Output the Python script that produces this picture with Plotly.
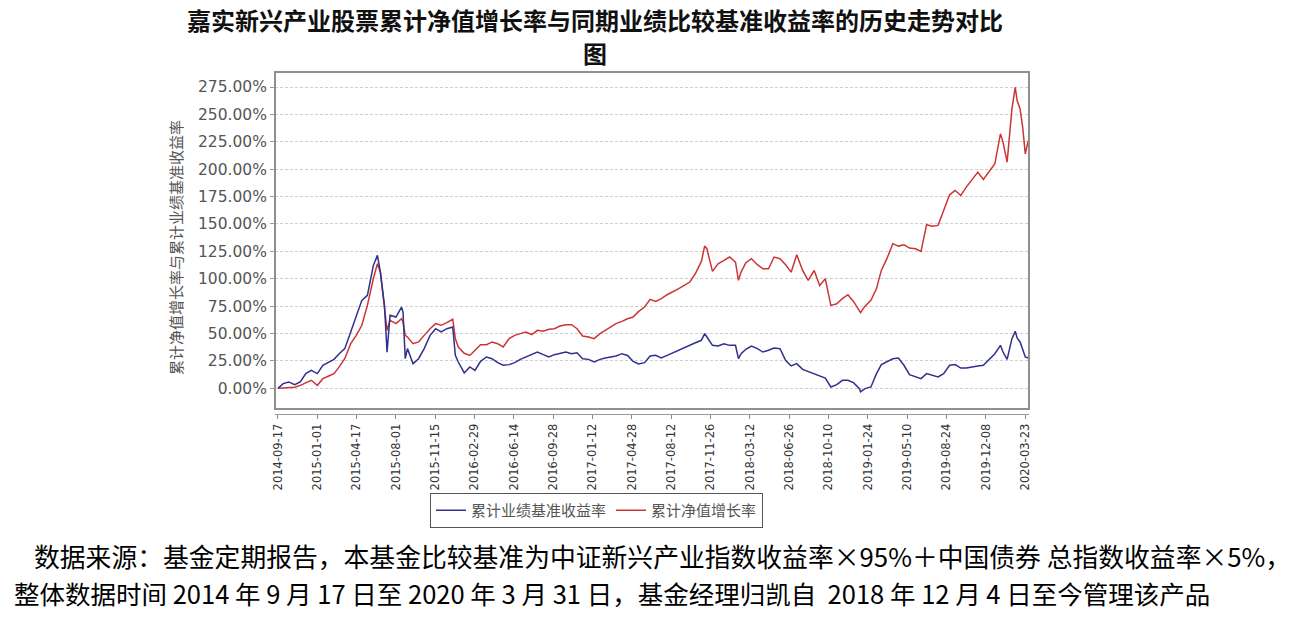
import plotly.graph_objects as go

dates = [
    "2014-09-17", "2014-10-01", "2014-10-16", "2014-11-01", "2014-11-16", "2014-12-01", "2014-12-16",
    "2015-01-01", "2015-01-16", "2015-02-01", "2015-02-15", "2015-03-01", "2015-03-16", "2015-04-01",
    "2015-04-16", "2015-05-01", "2015-05-16", "2015-06-01", "2015-06-12", "2015-06-20", "2015-07-01",
    "2015-07-08", "2015-07-16", "2015-08-01", "2015-08-16", "2015-08-20", "2015-08-26", "2015-09-01",
    "2015-09-16", "2015-10-01", "2015-10-16", "2015-11-01", "2015-11-16", "2015-12-01", "2015-12-16",
    "2016-01-01", "2016-01-08", "2016-01-16", "2016-02-01", "2016-02-16", "2016-03-01", "2016-03-16",
    "2016-04-01", "2016-04-16", "2016-05-01", "2016-05-16", "2016-06-01", "2016-06-16", "2016-07-01",
    "2016-07-16", "2016-08-01", "2016-08-16", "2016-09-01", "2016-09-16", "2016-10-01", "2016-10-16",
    "2016-11-01", "2016-11-16", "2016-12-01", "2016-12-16", "2017-01-01", "2017-01-16", "2017-02-01",
    "2017-02-15", "2017-03-01", "2017-03-16", "2017-04-01", "2017-04-16", "2017-05-01", "2017-05-16",
    "2017-06-01", "2017-06-16", "2017-07-01", "2017-07-16", "2017-08-01", "2017-08-16", "2017-09-01",
    "2017-09-16", "2017-10-01", "2017-10-16", "2017-11-01", "2017-11-10", "2017-11-16", "2017-12-01",
    "2017-12-16", "2018-01-01", "2018-01-16", "2018-02-01", "2018-02-09", "2018-02-16", "2018-03-01",
    "2018-03-16", "2018-04-01", "2018-04-16", "2018-05-01", "2018-05-16", "2018-06-01", "2018-06-16",
    "2018-07-01", "2018-07-16", "2018-08-01", "2018-08-16", "2018-09-01", "2018-09-16", "2018-10-01",
    "2018-10-16", "2018-11-01", "2018-11-16", "2018-12-01", "2018-12-16", "2019-01-01", "2019-01-04",
    "2019-01-16", "2019-02-01", "2019-02-16", "2019-03-01", "2019-03-16", "2019-04-01", "2019-04-16",
    "2019-05-01", "2019-05-16", "2019-06-01", "2019-06-16", "2019-07-01", "2019-07-16", "2019-08-01",
    "2019-08-16", "2019-09-01", "2019-09-16", "2019-10-01", "2019-10-16", "2019-11-01", "2019-11-16",
    "2019-12-01", "2019-12-16", "2020-01-01", "2020-01-16", "2020-01-23", "2020-02-03", "2020-02-16",
    "2020-02-25", "2020-03-01", "2020-03-09", "2020-03-16", "2020-03-23", "2020-03-31",
]

# 累计业绩基准收益率 (%)
benchmark = [
    0.0, 4.3, 5.8, 3.3, 5.8, 13.4, 16.4,
    13.4, 21.0, 24.0, 26.4, 31.6, 36.2, 51.4,
    66.6, 80.3, 84.8, 112.0, 121.3, 106.0, 75.7,
    33.0, 66.6, 65.0, 74.0, 69.6, 27.0, 36.2,
    22.5, 27.0, 36.2, 48.3, 54.4, 51.4, 54.4,
    56.0, 30.0, 24.0, 14.0, 19.5, 16.4, 24.6,
    28.6, 27.0, 23.4, 21.0, 21.6, 23.4, 26.4,
    28.6, 30.7, 33.1, 30.7, 28.6, 30.7, 32.2,
    33.1, 31.6, 32.5, 27.0, 26.4, 24.0, 26.4,
    27.7, 28.6, 29.5, 31.6, 30.0, 24.6, 22.2,
    23.4, 29.5, 30.1, 27.7, 30.1, 32.5, 34.7,
    36.8, 39.8, 41.6, 43.8, 49.9, 46.8, 39.2,
    38.6, 40.7, 39.2, 39.2, 27.0, 31.6, 35.6,
    38.6, 36.2, 33.1, 34.7, 36.8, 36.2, 25.5,
    20.4, 22.5, 17.3, 15.5, 13.4, 11.9, 9.4,
    1.2, 3.3, 7.3, 7.3, 5.2, -0.3, -3.3,
    -0.3, 1.2, 13.4, 21.6, 24.0, 27.0, 27.7,
    21.0, 12.5, 10.3, 8.8, 13.4, 11.9, 10.3,
    13.4, 21.0, 21.6, 18.5, 18.5, 19.8, 20.4,
    21.0, 26.4, 31.6, 39.2, 33.1, 26.4, 45.3,
    52.0, 45.9, 42.3, 34.7, 28.6, 27.7,
]

# 累计净值增长率 (%)
fund = [
    0.0, 0.3, 0.6, 0.9, 2.7, 5.2, 7.3,
    2.7, 8.8, 11.2, 13.4, 19.5, 27.0, 40.7,
    48.3, 57.5, 75.7, 100.0, 113.7, 106.0, 69.6,
    53.0, 62.0, 59.0, 63.5, 60.5, 48.3, 46.8,
    40.7, 42.3, 48.3, 54.4, 59.0, 57.5, 60.0,
    63.0, 45.3, 37.7, 32.0, 30.0, 34.7, 39.8,
    39.8, 42.3, 40.7, 37.7, 45.3, 48.3, 49.9,
    51.4, 49.0, 52.9, 52.0, 53.8, 54.4, 56.8,
    58.0, 58.0, 54.4, 47.7, 46.8, 45.3, 49.9,
    52.9, 55.9, 59.0, 61.1, 63.5, 65.0, 70.2,
    74.2, 81.2, 79.3, 81.8, 85.4, 87.9, 90.9,
    93.9, 97.0, 104.6, 115.8, 129.8, 127.4, 106.7,
    113.7, 116.7, 119.8, 115.2, 98.5, 106.0, 114.6,
    118.3, 112.8, 109.1, 109.1, 119.8, 118.3, 112.8,
    106.0, 121.9, 107.6, 98.5, 107.6, 93.9, 100.0,
    75.7, 77.2, 81.8, 85.4, 79.3, 70.2, 69.0,
    75.0, 80.3, 91.0, 107.6, 118.3, 132.0, 129.8,
    131.0, 128.0, 127.4, 125.0, 149.3, 148.0, 148.7,
    162.3, 176.6, 180.6, 176.0, 183.6, 190.6, 197.3,
    190.6, 198.0, 204.9, 232.3, 224.7, 206.4, 255.0,
    274.8, 262.7, 255.0, 238.3, 214.0, 226.0,
]

tick_dates = [
    "2014-09-17", "2015-01-01", "2015-04-17", "2015-08-01", "2015-11-15", "2016-02-29",
    "2016-06-14", "2016-09-28", "2017-01-12", "2017-04-28", "2017-08-12", "2017-11-26",
    "2018-03-12", "2018-06-26", "2018-10-10", "2019-01-24", "2019-05-10", "2019-08-24",
    "2019-12-08", "2020-03-23",
]
y_ticks = [0, 25, 50, 75, 100, 125, 150, 175, 200, 225, 250, 275]
y_tick_text = ["0.00%", "25.00%", "50.00%", "75.00%", "100.00%", "125.00%", "150.00%",
               "175.00%", "200.00%", "225.00%", "250.00%", "275.00%"]

title_line1 = "嘉实新兴产业股票累计净值增长率与同期业绩比较基准收益率的历史走势对比"
title_line2 = "图"
y_title = "累计净值增长率与累计业绩基准收益率"
note1 = "数据来源：基金定期报告，本基金比较基准为中证新兴产业指数收益率×95%＋中国债券 总指数收益率×5%，"
note2 = "整体数据时间 2014 年 9 月 17 日至 2020 年 3 月 31 日，基金经理归凯自  2018 年 12 月 4 日至今管理该产品"

W, H = 1310, 618
L, R, T, B = 275, 281, 72, 204
PW, PH = W - L - R, H - T - B

fig = go.Figure()
fig.add_trace(go.Scatter(
    x=dates, y=fund, mode="lines", name="累计净值增长率",
    line=dict(color="#cc3535", width=1.5), legendrank=2,
))
fig.add_trace(go.Scatter(
    x=dates, y=benchmark, mode="lines", name="累计业绩基准收益率",
    line=dict(color="#30308f", width=1.5), legendrank=1,
))

gap = (414 - 409) / PH

fig.update_layout(
    width=W, height=H,
    margin=dict(l=L, r=R, t=T, b=B),
    paper_bgcolor="white", plot_bgcolor="white",
    font=dict(family="DejaVu Sans, Noto Sans CJK SC", color="#555"),
    showlegend=True,
    legend=dict(
        orientation="h", x=(430 - L) / PW, y=(414 - 493) / PH, xanchor="left", yanchor="top",
        bordercolor="#555", borderwidth=1, bgcolor="white",
        font=dict(family="Noto Sans CJK SC", size=15, color="#555"),
        itemwidth=30, tracegroupgap=0,
    ),
    xaxis=dict(
        type="date", range=["2014-09-09", "2020-04-02"],
        anchor="free", position=0,
        tickvals=tick_dates, ticktext=tick_dates, tickangle=-90,
        tickfont=dict(family="DejaVu Sans", size=11.5, color="#333"),
        ticks="outside", ticklen=4, tickcolor="#888",
        showline=True, linecolor="#999", linewidth=1,
        showgrid=False, zeroline=False,
    ),
    yaxis=dict(
        domain=[gap, 1], range=[-18.9, 288.7],
        tickvals=y_ticks, ticktext=y_tick_text,
        tickfont=dict(family="DejaVu Sans", size=15.5, color="#555"),
        ticks="outside", ticklen=4, tickcolor="#999",
        showgrid=True, gridcolor="#cfcfcf", griddash="3px,2px", gridwidth=1,
        zeroline=False, showline=False,
    ),
    shapes=[dict(
        type="rect", xref="x domain", yref="y domain", x0=0, x1=1, y0=0, y1=1,
        line=dict(color="#909090", width=2), fillcolor="rgba(0,0,0,0)", layer="above",
    )],
    annotations=[
        dict(text=title_line1, xref="paper", yref="paper", x=(595 - L) / PW, y=(H - B - 19) / PH,
             xanchor="center", yanchor="middle", showarrow=False,
             font=dict(family="Noto Sans CJK SC", size=24, color="#111", weight="bold")),
        dict(text=title_line2, xref="paper", yref="paper", x=(595 - L) / PW, y=(H - B - 53) / PH,
             xanchor="center", yanchor="middle", showarrow=False,
             font=dict(family="Noto Sans CJK SC", size=24, color="#111", weight="bold")),
        dict(text=y_title, xref="paper", yref="paper", x=(175 - L) / PW, y=(H - B - 248) / PH,
             xanchor="center", yanchor="middle", showarrow=False, textangle=-90,
             font=dict(family="Noto Sans CJK SC", size=15, color="#555")),
        dict(text=note1, xref="paper", yref="paper", x=(32 - L) / PW, y=(H - B - 555) / PH,
             xanchor="left", yanchor="middle", showarrow=False,
             font=dict(family="Noto Sans CJK SC", size=25.8, color="#000")),
        dict(text=note2, xref="paper", yref="paper", x=(12 - L) / PW, y=(H - B - 592) / PH,
             xanchor="left", yanchor="middle", showarrow=False,
             font=dict(family="Noto Sans CJK SC", size=25.5, color="#000")),
    ],
)

fig.write_html("out.html")
